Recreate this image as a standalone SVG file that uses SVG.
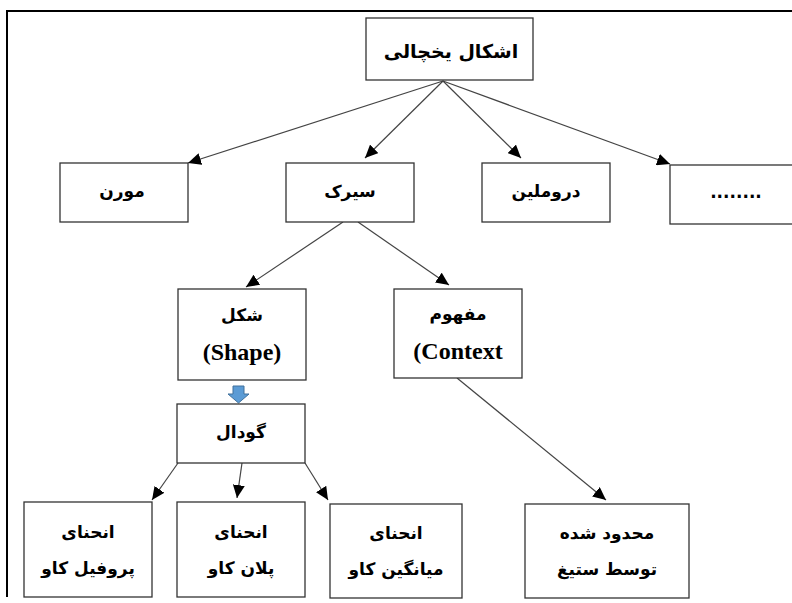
<svg xmlns="http://www.w3.org/2000/svg" width="792" height="603" viewBox="0 0 792 603">
<defs>
<marker id="ah" markerUnits="userSpaceOnUse" markerWidth="14" markerHeight="12" refX="13" refY="6" orient="auto">
<path d="M0,0 L13,6 L0,12 Z" fill="#000"/>
</marker>
<style>
.box{fill:#fff;stroke:#333;stroke-width:1.3}
.fa{font-family:"DejaVu Sans",sans-serif;font-weight:bold;font-size:17px;fill:#000;text-anchor:middle}
.big{font-size:19px}
.en{font-family:"Liberation Serif",serif;font-weight:bold;font-size:24px;fill:#000;text-anchor:middle}
.ln{stroke:#444;stroke-width:1.2;fill:none;marker-end:url(#ah)}
</style>
</defs>
<rect width="792" height="603" fill="#fff"/>
<g id="frame" stroke="#000" stroke-width="2" fill="none">
<path d="M7,597 L7,11 L792,11"/>
</g>
<g id="connectors">
<line class="ln" x1="443" y1="81" x2="188" y2="163"/>
<line class="ln" x1="443" y1="81" x2="365" y2="158"/>
<line class="ln" x1="443" y1="81" x2="521" y2="158"/>
<line class="ln" x1="443" y1="81" x2="670" y2="164"/>
<line class="ln" x1="343" y1="222" x2="246" y2="287"/>
<line class="ln" x1="358" y1="222" x2="449" y2="285"/>
<line class="ln" x1="457" y1="378" x2="606" y2="500"/>
<line class="ln" x1="178" y1="463" x2="152" y2="500"/>
<line class="ln" x1="242" y1="463" x2="237" y2="498"/>
<line class="ln" x1="305" y1="463" x2="328" y2="500"/>
<path id="blue-arrow" d="M233,386 L244,386 L244,394 L249,394 L238.5,403 L228,394 L233,394 Z" fill="#5b9bd5" stroke="#41719c" stroke-width="1"/>
</g>
<g id="n-root"><rect class="box" x="366" y="18" width="167" height="62"/><text class="fa big" x="451" y="58">اشکال یخچالی</text></g>
<g id="n-moraine"><rect class="box" x="60" y="163" width="128" height="59"/><text class="fa" x="122" y="197">مورن</text></g>
<g id="n-cirque"><rect class="box" x="286" y="163" width="128" height="59"/><text class="fa" x="350" y="197">سیرک</text></g>
<g id="n-drumlin"><rect class="box" x="482" y="163" width="128" height="59"/><text class="fa" x="546" y="197">دروملین</text></g>
<g id="n-more"><rect class="box" x="670" y="165" width="130" height="59"/><text class="fa" x="736" y="198">........</text></g>
<g id="n-shape"><rect class="box" x="178" y="289" width="128" height="91"/><text class="fa" x="242" y="321">شکل</text><text class="en" x="242" y="360">(Shape)</text></g>
<g id="n-context"><rect class="box" x="394" y="289" width="128" height="89"/><text class="fa" x="458" y="320">مفهوم</text><text class="en" x="458" y="359">(Context</text></g>
<g id="n-hollow"><rect class="box" x="177" y="404" width="128" height="59"/><text class="fa" x="241" y="438">گودال</text></g>
<g id="n-profile"><rect class="box" x="24" y="502" width="128" height="95"/><text class="fa" x="88" y="538">انحنای</text><text class="fa" x="88" y="574">پروفیل کاو</text></g>
<g id="n-plan"><rect class="box" x="177" y="502" width="128" height="95"/><text class="fa" x="241" y="538">انحنای</text><text class="fa" x="241" y="574">پلان کاو</text></g>
<g id="n-mean"><rect class="box" x="330" y="504" width="132" height="94"/><text class="fa" x="396" y="539">انحنای</text><text class="fa" x="396" y="575">میانگین کاو</text></g>
<g id="n-limited"><rect class="box" x="525" y="504" width="164" height="94"/><text class="fa" x="607" y="539">محدود شده</text><text class="fa" x="607" y="575">توسط ستیغ</text></g>
</svg>
